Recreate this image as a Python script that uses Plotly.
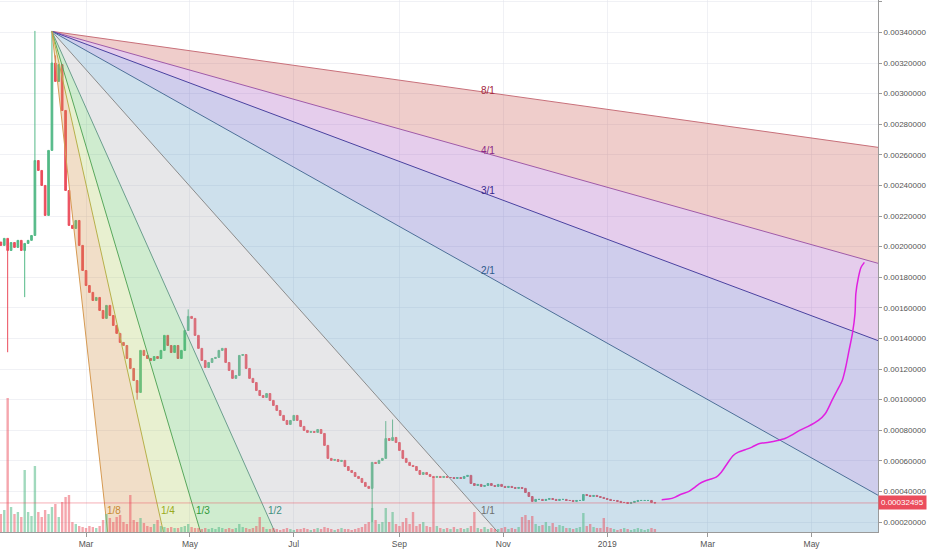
import numpy as np
import pandas as pd
import plotly.graph_objects as go

# ---------------- data ----------------
start_date = "2018-01-10"
step_days = 2
# closes in units of 0.001
close_k = [
    2.008, 2.054, 1.975, 2.027, 1.995, 2.041, 1.975, 2.021, 2.041, 2.073,
    2.563, 2.498, 2.400, 2.204, 2.629, 3.200, 3.080, 3.190, 2.890, 2.367,
    2.139, 2.119, 2.171, 2.008, 1.844, 1.746, 1.701, 1.648, 1.668, 1.583,
    1.531, 1.616, 1.550, 1.485, 1.433, 1.374, 1.354, 1.269, 1.204, 1.125,
    1.047, 1.322, 1.289, 1.269, 1.256, 1.282, 1.269, 1.322, 1.420, 1.354,
    1.308, 1.354, 1.269, 1.322, 1.452, 1.544, 1.531, 1.420, 1.335, 1.256,
    1.210, 1.243, 1.269, 1.276, 1.322, 1.335, 1.243, 1.191, 1.139, 1.158,
    1.289, 1.295, 1.204, 1.139, 1.112, 1.060, 1.027, 1.014, 1.040, 0.995,
    0.962, 0.929, 0.897, 0.864, 0.838, 0.864, 0.897, 0.864, 0.825, 0.799,
    0.786, 0.792, 0.786, 0.805, 0.779, 0.701, 0.616, 0.603, 0.609, 0.596,
    0.603, 0.563, 0.537, 0.524, 0.498, 0.485, 0.459, 0.433, 0.420, 0.590,
    0.583, 0.603, 0.616, 0.746, 0.733, 0.753, 0.720, 0.668, 0.616, 0.590,
    0.570, 0.563, 0.537, 0.511, 0.524, 0.511, 0.498, 0.492, 0.498, 0.491,
    0.498, 0.491, 0.491, 0.485, 0.491, 0.485, 0.498, 0.505, 0.452, 0.439,
    0.446, 0.433, 0.439, 0.452, 0.439, 0.433, 0.446, 0.433, 0.426, 0.433,
    0.426, 0.420, 0.426, 0.420, 0.393, 0.367, 0.335, 0.348, 0.348, 0.341,
    0.348, 0.354, 0.348, 0.341, 0.348, 0.348, 0.341, 0.341, 0.335, 0.341,
    0.341, 0.380, 0.374, 0.367, 0.374, 0.367, 0.361, 0.354, 0.348, 0.341,
    0.341, 0.335, 0.328, 0.328, 0.322, 0.328, 0.335, 0.341, 0.341, 0.341,
    0.341, 0.328, 0.32495,
]
open_first_k = 2.03
wick_high_k = {10: 3.41, 15: 3.407, 16: 3.25, 55: 1.59, 113: 0.86, 115: 0.87}
wick_low_k = {2: 1.31, 7: 1.67, 40: 1.0, 109: 0.2}

volume = [
    18, 22, 134, 25, 18, 20, 15, 62, 20, 16,
    66, 20, 15, 22, 18, 25, 28, 15, 30, 35,
    37, 10, 8, 6, 5, 4, 6, 5, 4, 6,
    12, 18, 14, 10, 15, 17, 10, 8, 37, 12,
    10, 14, 9, 6, 5, 8, 12, 6, 5, 4,
    5, 4, 4, 5, 6, 8, 5, 4, 4, 3,
    4, 3, 4, 3, 5, 4, 3, 4, 3, 4,
    8, 5, 4, 3, 4, 6, 15, 5, 3, 3,
    4, 3, 2, 3, 4, 3, 2, 3, 3, 4,
    3, 2, 3, 4, 3, 5, 4, 3, 2, 3,
    4, 3, 3, 2, 3, 4, 5, 8, 10, 24,
    12, 8, 10, 24, 10, 20, 8, 6, 10, 14,
    8, 20, 6, 8, 10, 6, 5, 55, 6, 4,
    3, 4, 3, 5, 3, 4, 3, 4, 6, 20,
    4, 3, 5, 3, 4, 3, 3, 4, 5, 3,
    4, 3, 5, 15, 17, 12, 16, 8, 6, 7,
    10, 6, 9, 5, 7, 6, 4, 4, 3, 4,
    5, 19, 6, 8, 5, 4, 4, 14, 5, 4,
    3, 2, 3, 4, 3, 2, 3, 4, 3, 2,
    3, 4, 3,
]
volume_axis_max = 532

last_price = 0.00032495
last_price_text = "0.00032495"

proj_dates = [
    "2019-02-02 00:00", "2019-02-06 00:00", "2019-02-10 00:00", "2019-02-13 00:00",
    "2019-02-18 00:00", "2019-02-21 00:00", "2019-02-24 00:00", "2019-02-27 00:00",
    "2019-03-02 00:00", "2019-03-06 00:00", "2019-03-09 00:00", "2019-03-13 00:00",
    "2019-03-16 00:00", "2019-03-19 00:00", "2019-03-23 00:00", "2019-03-27 00:00",
    "2019-03-31 00:00", "2019-04-06 00:00", "2019-04-11 00:00", "2019-04-15 00:00",
    "2019-04-19 00:00", "2019-04-24 00:00", "2019-04-29 00:00", "2019-05-05 00:00",
    "2019-05-09 00:00", "2019-05-13 00:00", "2019-05-16 00:00", "2019-05-19 00:00",
    "2019-05-21 00:00", "2019-05-23 00:00", "2019-05-25 00:00", "2019-05-26 12:00",
    "2019-05-27 00:00", "2019-05-28 12:00", "2019-05-30 00:00", "2019-06-01 00:00",
]
proj_k = [
    0.346, 0.350, 0.363, 0.380, 0.400, 0.424, 0.450, 0.467, 0.478, 0.493,
    0.526, 0.591, 0.635, 0.657, 0.673, 0.690, 0.712, 0.722, 0.733, 0.744,
    0.766, 0.799, 0.825, 0.864, 0.908, 0.995, 1.060, 1.125, 1.210, 1.322,
    1.433, 1.563, 1.694, 1.799, 1.864, 1.897,
]

fan_origin_date = "2018-02-09"
fan_origin_price = 0.003407
fan_anchor_date = "2018-10-18"
fan_anchor_price = 0.000269
fan_end_date = "2019-08-01"
fan_labels = ["8/1", "4/1", "3/1", "2/1", "1/1", "1/2", "1/3", "1/4", "1/8"]
fan_time_units = [8, 4, 3, 2, 1, 1, 1, 1, 1]
fan_price_units = [1, 1, 1, 1, 1, 2, 3, 4, 8]
fan_line_colors = ["#c8707a", "#a05aa8", "#4a42a0", "#4d6f98", "#8c8c8c",
                   "#6c9e8e", "#58a85c", "#b8b04a", "#d69a52"]
fan_label_colors = ["#a3283e", "#8a2a88", "#35288c", "#2f5b8a", "#6e6e6e",
                    "#3f8f80", "#2f9a3a", "#9aaa20", "#c88a30"]
fan_fill_colors = ["rgba(202,88,82,0.30)", "rgba(168,88,192,0.30)",
                   "rgba(95,88,192,0.30)", "rgba(88,152,192,0.30)",
                   "rgba(175,175,182,0.30)", "rgba(95,192,95,0.30)",
                   "rgba(178,205,98,0.30)", "rgba(208,145,72,0.30)"]

month_ticks = ["2018-03-01", "2018-05-01", "2018-07-01", "2018-09-01",
               "2018-11-01", "2019-01-01", "2019-03-01", "2019-05-01"]
month_labels = ["Mar", "May", "Jul", "Sep", "Nov", "2019", "Mar", "May"]

x_range = ["2018-01-09 12:00", "2019-06-09"]
y_range = [0.000135, 0.003612]

up_color = "#53b987"
down_color = "#eb4d5c"

# ---------------- build ----------------
dates = pd.date_range(start_date, periods=len(close_k), freq=f"{step_days}D")
close = np.array(close_k) * 1e-3
open_ = np.concatenate([[open_first_k * 1e-3], close[:-1]])
high = np.maximum(open_, close)
low = np.minimum(open_, close)
for i, v in wick_high_k.items():
    high[i] = max(high[i], v * 1e-3)
for i, v in wick_low_k.items():
    low[i] = min(low[i], v * 1e-3)

fig = go.Figure()

o_date = pd.Timestamp(fan_origin_date)
a_date = pd.Timestamp(fan_anchor_date)
e_date = pd.Timestamp(fan_end_date)
base_slope = (fan_origin_price - fan_anchor_price) / (a_date - o_date).days
span_days = (e_date - o_date).days
slopes = [base_slope * p / t for p, t in zip(fan_price_units, fan_time_units)]
end_prices = [fan_origin_price - s * span_days for s in slopes]

# fills
for k in range(len(fan_fill_colors)):
    fig.add_trace(go.Scatter(
        x=[o_date, e_date, e_date, o_date],
        y=[fan_origin_price, end_prices[k], end_prices[k + 1], fan_origin_price],
        fill="toself", fillcolor=fan_fill_colors[k], mode="lines",
        line=dict(width=0), hoverinfo="skip", showlegend=False))

# lines
for k in range(len(fan_labels)):
    fig.add_trace(go.Scatter(
        x=[o_date, e_date], y=[fan_origin_price, end_prices[k]],
        mode="lines", line=dict(color=fan_line_colors[k], width=1),
        hoverinfo="skip", showlegend=False))

# volume
vol_colors = ["rgba(83,185,135,0.55)" if c >= o else "rgba(235,77,92,0.5)"
              for o, c in zip(open_, close)]
fig.add_trace(go.Bar(
    x=dates, y=volume, yaxis="y2", marker=dict(color=vol_colors, line=dict(width=0)),
    width=step_days * 0.7 * 86400000, hoverinfo="skip", showlegend=False))

# candles
fig.add_trace(go.Candlestick(
    x=dates, open=open_, high=high, low=low, close=close,
    increasing=dict(line=dict(color=up_color, width=1), fillcolor=up_color),
    decreasing=dict(line=dict(color=down_color, width=1), fillcolor=down_color),
    whiskerwidth=0, showlegend=False, hoverinfo="skip"))

# projection
fig.add_trace(go.Scatter(
    x=pd.to_datetime(proj_dates, format="%Y-%m-%d %H:%M"), y=np.array(proj_k) * 1e-3,
    mode="lines",
    line=dict(color="#e020e0", width=1.5, shape="spline", smoothing=0.8),
    hoverinfo="skip", showlegend=False))

# fan labels
annotations = []
for k, lab in enumerate(fan_labels):
    if fan_price_units[k] <= fan_time_units[k]:
        lx = a_date
        ly = fan_origin_price - slopes[k] * (a_date - o_date).days
    else:
        ly = fan_anchor_price
        lx = o_date + pd.Timedelta(days=(fan_origin_price - fan_anchor_price) / slopes[k])
    annotations.append(dict(
        x=lx, y=ly, xref="x", yref="y", text=lab, showarrow=False,
        xanchor="left", yanchor="middle", yshift=1,
        font=dict(family="Liberation Sans", size=10, color=fan_label_colors[k])))

annotations.append(dict(
    x=1, xref="paper", y=last_price, yref="y", text=last_price_text,
    showarrow=False, xanchor="left", yanchor="middle", xshift=0,
    bgcolor=down_color, borderpad=2,
    font=dict(family="Liberation Sans", size=8, color="white")))

fig.update_layout(
    width=932, height=550,
    margin=dict(l=0, r=54, t=0, b=18),
    paper_bgcolor="white", plot_bgcolor="white",
    showlegend=False,
    annotations=annotations,
    shapes=[dict(type="line", xref="paper", x0=0, x1=1, yref="y",
                 y0=last_price, y1=last_price,
                 line=dict(color="rgba(235,77,92,0.45)", width=1), layer="above")],
    xaxis=dict(
        type="date", range=x_range, tickvals=month_ticks, ticktext=month_labels,
        showgrid=True, gridcolor="rgba(225,228,235,0.5)", zeroline=False,
        showline=True, linecolor="#9a9a9a", linewidth=1,
        ticks="outside", ticklen=4, tickcolor="#9a9a9a",
        tickfont=dict(family="Liberation Sans", size=8.5, color="#555555"),
        rangeslider=dict(visible=False)),
    yaxis=dict(
        side="right", range=y_range, tick0=0.0002, dtick=0.0002,
        tickformat=".8f", showgrid=True, gridcolor="rgba(225,228,235,0.5)",
        zeroline=False, showline=True, linecolor="#9a9a9a", linewidth=1,
        ticks="outside", ticklen=3, tickcolor="#9a9a9a",
        tickfont=dict(family="Liberation Sans", size=8, color="#555555")),
    yaxis2=dict(overlaying="y", range=[0, volume_axis_max], visible=False,
                showgrid=False, zeroline=False),
)

fig.write_html("out.html", config={"displayModeBar": False},
               post_script="document.body.style.margin='0px';")
